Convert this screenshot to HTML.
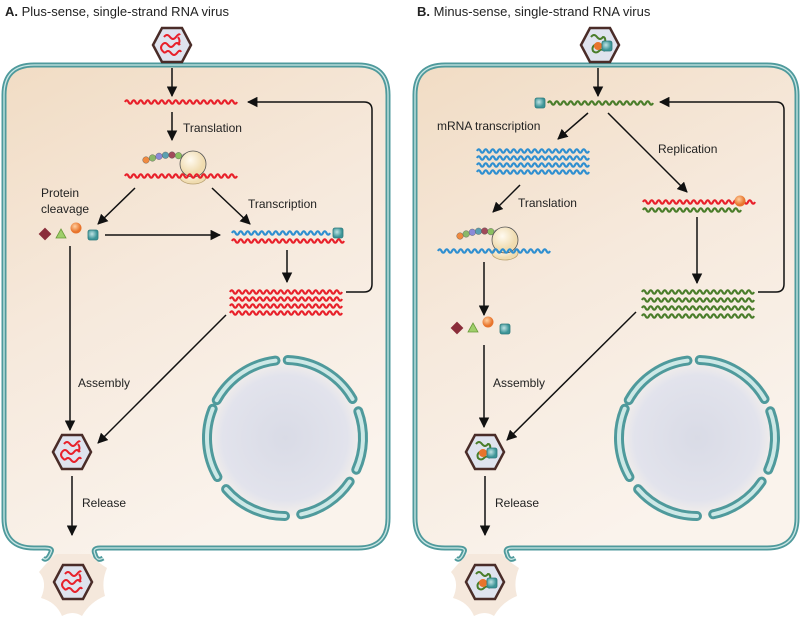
<!DOCTYPE html>
<html><head><meta charset="utf-8">
<style>
html,body{margin:0;padding:0;background:#fff;}
svg{display:block;font-family:"Liberation Sans",sans-serif;}
text{font-size:12px;fill:#222;}
</style></head><body>
<svg id="s" width="800" height="624" viewBox="0 0 800 624" xmlns="http://www.w3.org/2000/svg">
<defs>
<linearGradient id="cg" x1="0" y1="0" x2="0.4" y2="1">
<stop offset="0" stop-color="#f1dcc4"/><stop offset="0.5" stop-color="#f6e9dc"/><stop offset="1" stop-color="#faf3ec"/></linearGradient>
<radialGradient id="ng"><stop offset="0" stop-color="#d9dbe6"/><stop offset="0.8" stop-color="#e2e3ec"/><stop offset="1" stop-color="#f4efea"/></radialGradient>
<marker id="ar" viewBox="0 0 10 10" refX="9" refY="5" markerWidth="7" markerHeight="7" orient="auto"><path d="M0,0L10,5L0,10z" fill="#111"/></marker>
<radialGradient id="sq" cx="0.4" cy="0.4"><stop offset="0" stop-color="#bfe3e4"/><stop offset="1" stop-color="#3d9598"/></radialGradient>
<radialGradient id="or" cx="0.4" cy="0.35"><stop offset="0" stop-color="#ffd0a0"/><stop offset="1" stop-color="#e8742c"/></radialGradient>
<radialGradient id="rb" cx="0.4" cy="0.35"><stop offset="0" stop-color="#fffaf0"/><stop offset="1" stop-color="#f0dcb0"/></radialGradient>
</defs>

<text x="5" y="16" style="font-size:13px"><tspan font-weight="bold">A.</tspan>  Plus-sense, single-strand RNA virus</text>
<text x="417" y="16" style="font-size:13px"><tspan font-weight="bold">B.</tspan>  Minus-sense, single-strand RNA virus</text>

<g id="cells"></g>
</svg>
<script>
const s=document.getElementById('s');
let h='';
function cell(L,R,o1,o2){
 const T=65,B=548,r=30;
 const d=`M${o1},${B} L${L+r},${B} Q${L},${B} ${L},${B-r} L${L},${T+r} Q${L},${T} ${L+r},${T} L${R-r},${T} Q${R},${T} ${R},${T+r} L${R},${B-r} Q${R},${B} ${R-r},${B} L${o2},${B}`;
 h+=`<path d="${d} Q${o2-6},${B} ${o2-4},${B+12} L${o1+4},${B+12} Q${o1+6},${B} ${o1},${B}Z" fill="url(#cg)"/>`;
 const p=`M${o1-2},${B+10} Q${o1+2},${B+14} ${o1+6},${B+4} Q${o1+8},${B} ${o1},${B} ${d.slice(d.indexOf('L'))} Q${o2-8},${B} ${o2-5},${B+6} Q${o2-3},${B+14} ${o2+3},${B+10}`;
 h+=`<path d="${p}" fill="none" stroke="#4f9a9c" stroke-width="5"/><path d="${p}" fill="none" stroke="#c9e6e4" stroke-width="1.3"/>`;
}
cell(4,388,45,100);cell(415,797,458,512);
function nuc(cx,cy){
 h+=`<circle cx="${cx}" cy="${cy}" r="78" fill="url(#ng)"/>`;
 const segs=[[-151,-97],[-88,-30],[-20,24],[34,78],[90,139],[150,202]];
 for(const [a,b] of segs){
  const r=78,p=t=>[cx+r*Math.cos(t*Math.PI/180),cy+r*Math.sin(t*Math.PI/180)];
  const [x1,y1]=p(a),[x2,y2]=p(b);
  const d=`M${x1},${y1} A${r},${r} 0 0 1 ${x2},${y2}`;
  h+=`<path d="${d}" fill="none" stroke="#4f9a9c" stroke-width="10" stroke-linecap="round"/><path d="${d}" fill="none" stroke="#cde8e6" stroke-width="4" stroke-linecap="round"/>`;
 }
}
nuc(285,438);nuc(697,438);
function wave(x1,x2,y,c){
 let d=`M${x1},${y}`;for(let x=x1;x<x2-3;x+=7)d+=` q1.75,-3.4 3.5,0 q1.75,3.4 3.5,0`;
 h+=`<path d="${d}" fill="none" stroke="${c}" stroke-width="2.2"/>`;
}
const RED='#e8202a',BLU='#2f8fd0',GRN='#4a7d2a';
function arrow(x1,y1,x2,y2){h+=`<line x1="${x1}" y1="${y1}" x2="${x2}" y2="${y2}" stroke="#111" stroke-width="1.5" marker-end="url(#ar)"/>`;}
function txt(x,y,t){h+=`<text x="${x}" y="${y}">${t}</text>`;}
function sq(x,y){h+=`<rect x="${x-5}" y="${y-5}" width="10" height="10" rx="2" fill="url(#sq)" stroke="#2d7a7c" stroke-width="0.8"/>`;}
function prots(x,y){
 h+=`<rect x="${x-4.5}" y="${y-4.5}" width="9" height="9" fill="#8a2d3a" transform="rotate(45 ${x} ${y})"/>`;
 h+=`<path d="M${x+16},${y-5} L${x+21},${y+4} L${x+11},${y+4}Z" fill="#9fcf6a" stroke="#6a9a3a" stroke-width="0.8"/>`;
 h+=`<circle cx="${x+31}" cy="${y-6}" r="5.5" fill="url(#or)"/>`;sq(x+48,y+1);
}
function virus(cx,cy,type,out){
 if(out) h+=`<path d="M${cx-34},${cy-10} Q${cx-24},${cy-22} ${cx-17},${cy-28} L${cx+17},${cy-28} Q${cx+24},${cy-20} ${cx+34},${cy-14} Q${cx+28},${cy} ${cx+32},${cy+14} Q${cx+17},${cy+20} ${cx+9},${cy+34} Q${cx},${cy+28} ${cx-11},${cy+34} Q${cx-17},${cy+20} ${cx-32},${cy+16} Q${cx-25},${cy} ${cx-34},${cy-10}Z" fill="#f5e8dc"/>`;
 h+=`<path d="M${cx-19},${cy} L${cx-10},${cy-17} L${cx+10},${cy-17} L${cx+19},${cy} L${cx+10},${cy+17} L${cx-10},${cy+17}Z" fill="#dfe3ee" stroke="#4a2c28" stroke-width="2.5"/>`;
 if(type=='A'){
  h+=`<path d="M${cx-8},${cy-8} q3,-4 6,0 t6,0 t4,-2 M${cx-10},${cy} q3,-4 6,0 t6,0 t6,0 M${cx-7},${cy+8} q3,-4 6,0 t6,0 t4,-1" fill="none" stroke="${RED}" stroke-width="2"/>`;
  h+=`<path d="M${cx+6},${cy-8} q3,4 0,8 M${cx-10},${cy} q-3,4 3,8" fill="none" stroke="${RED}" stroke-width="2"/>`;
 } else {
  h+=`<path d="M${cx-9},${cy-8} q3,-4 6,0 t6,0 q3,0 2,6 q-4,3 -8,1 q-6,2 -4,7 q3,3 6,0 t6,0" fill="none" stroke="${GRN}" stroke-width="2"/>`;
  h+=`<circle cx="${cx-2}" cy="${cy+1}" r="4" fill="#e8742c"/>`;sq(cx+7,cy+1);
 }
}
function ribo(cx,cy,x0){
 h+=`<ellipse cx="${cx}" cy="${cy+13}" rx="13" ry="7" fill="url(#rb)" stroke="#b8a070" stroke-width="0.8"/>`;
 const cols=['#f08a40','#8ab86a','#8a8ad8','#5aa0b0','#a04a5a','#8ac060','#ccc'];
 for(let i=0;i<7;i++){const t=i/6;const x=x0+t*(cx-8-x0),y=cy-4-Math.sin(t*Math.PI*0.8)*5;h+=`<circle cx="${x}" cy="${y}" r="3.3" fill="${cols[i]}" stroke="#555" stroke-width="0.4"/>`;}
 h+=`<circle cx="${cx}" cy="${cy}" r="13" fill="url(#rb)" stroke="#555" stroke-width="0.8"/>`;
}
// Panel A
virus(172,45,'A');arrow(172,68,172,96);
wave(125,237,102,RED);
arrow(172,112,172,140);txt(183,132,'Translation');
ribo(193,164,146);wave(125,237,176,RED);
arrow(135,188,98,224);txt(41,197,'Protein');txt(41,213,'cleavage');
arrow(212,188,250,224);txt(248,208,'Transcription');
prots(45,234);arrow(105,235,220,235);
wave(232,333,233,BLU);sq(338,233);wave(232,343,241,RED);
arrow(287,250,287,282);
for(let i=0;i<4;i++)wave(230,342,292+i*7,RED);
h+=`<path d="M346,292 L364,292 Q372,292 372,284 L372,110 Q372,102 364,102 L248,102" fill="none" stroke="#111" stroke-width="1.5" marker-end="url(#ar)"/>`;
arrow(70,246,70,430);txt(78,387,'Assembly');
arrow(226,315,98,443);
virus(72,452,'A');arrow(72,476,72,535);txt(82,507,'Release');
virus(73,582,'A',true);
// Panel B
virus(600,45,'B');arrow(598,68,598,96);
sq(540,103);wave(548,650,103,GRN);
arrow(588,113,558,139);txt(437,130,'mRNA transcription');
arrow(608,113,687,192);txt(658,153,'Replication');
for(let i=0;i<4;i++)wave(477,588,151+i*7,BLU);
arrow(520,185,493,212);txt(518,207,'Translation');
wave(643,752,202,RED);wave(643,742,210,GRN);h+=`<circle cx="740" cy="201" r="5.5" fill="url(#or)"/>`;
arrow(697,217,697,283);
for(let i=0;i<4;i++)wave(642,754,292+i*8,GRN);
h+=`<path d="M758,292 L776,292 Q784,292 784,284 L784,110 Q784,102 776,102 L660,102" fill="none" stroke="#111" stroke-width="1.5" marker-end="url(#ar)"/>`;
ribo(505,240,460);wave(438,548,251,BLU);
arrow(484,262,484,315);
prots(457,328);
arrow(484,345,484,427);txt(493,387,'Assembly');
arrow(636,312,507,440);
virus(485,452,'B');arrow(485,476,485,535);txt(495,507,'Release');
virus(485,582,'B',true);
s.insertAdjacentHTML('beforeend',h);
</script>
</body></html>
